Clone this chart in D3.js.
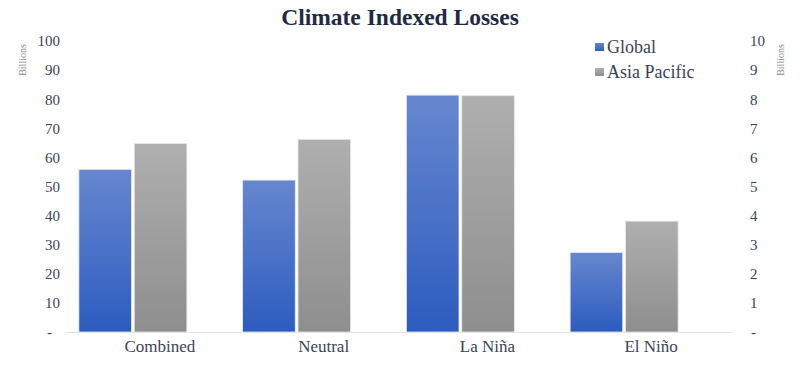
<!DOCTYPE html>
<html>
<head>
<meta charset="utf-8">
<script src="https://cdn.jsdelivr.net/npm/d3@7"></script>
<style>
  body { margin: 0; background: #fff; }
  svg { display: block; }
  .tick line, .domain { display: none; }
</style>
</head>
<body>
<script>
//-----------------Data----------------

const categories = ["Combined", "Neutral", "La Niña", "El Niño"];
const seriesNames = ["Global", "Asia Pacific"];
const globalValues = [55.9, 52.2, 81.4, 27.3];      // left axis, billions
const asiaValues = [6.48, 6.62, 8.12, 3.81];         // right axis, billions
const leftTicks = [0, 10, 20, 30, 40, 50, 60, 70, 80, 90, 100];
const rightTicks = [0, 1, 2, 3, 4, 5, 6, 7, 8, 9, 10];

//-----------------Main svg------------------

const width = 800;
const height = 365;
const serif = "'Liberation Serif', 'DejaVu Serif', serif";
const textColor = "#3b4357";

const svg = d3.select("body").append("svg").attr("width", width).attr("height", height);

const defs = svg.append("defs");
function gradient(id, top, bottom) {
  const g = defs.append("linearGradient").attr("id", id).attr("x1", 0).attr("y1", 0).attr("x2", 0).attr("y2", 1);
  g.append("stop").attr("offset", "0%").attr("stop-color", top);
  g.append("stop").attr("offset", "100%").attr("stop-color", bottom);
}
gradient("blueGrad", "#6787cf", "#2c5cbf");
gradient("grayGrad", "#afafaf", "#8e8e8e");
const fills = { "Global": "url(#blueGrad)", "Asia Pacific": "url(#grayGrad)" };

//---------------Scales---------------------

const x0 = d3.scaleBand().domain(categories).range([78, 733]);
const x1 = d3.scaleBand().domain(seriesNames).range([0, 108]).paddingInner(0.05);
const groupShift = -27; // bar groups sit left of the category labels

const yLeft = d3.scaleLinear().domain([0, 100]).range([332, 41]);
const yRight = d3.scaleLinear().domain([0, 10]).range([332, 41]);

//----------------Title-----------------

svg.append("text")
  .attr("x", width / 2)
  .attr("y", 25)
  .attr("text-anchor", "middle")
  .style("font-family", serif)
  .style("font-weight", "bold")
  .style("font-size", "23.5px")
  .style("fill", "#1f2a44")
  .text("Climate Indexed Losses");

//----------------Baseline-----------------

svg.append("line")
  .attr("x1", 66).attr("x2", 733)
  .attr("y1", yLeft(0) + 0.5).attr("y2", yLeft(0) + 0.5)
  .style("stroke", "#e3e3e3");

//-------------Bars----------------

const rows = categories.map((c, i) => ({ cat: c, values: [
  { series: "Global", y: yLeft(globalValues[i]) },
  { series: "Asia Pacific", y: yRight(asiaValues[i]) }
] }));

const groups = svg.selectAll(".group")
  .data(rows)
  .enter()
  .append("g")
  .attr("class", "group")
  .attr("transform", (d) => "translate(" + (x0(d.cat) + x0.bandwidth() / 2 - 54 + groupShift) + ",0)");

groups.selectAll("rect")
  .data((d) => d.values)
  .enter()
  .append("rect")
  .attr("x", (d) => x1(d.series))
  .attr("width", x1.bandwidth())
  .attr("y", (d) => d.y)
  .attr("height", (d) => yLeft(0) - d.y)
  .style("fill", (d) => fills[d.series])
  .style("stroke", "#e6e9ef")
  .style("stroke-width", 0.8);

//------------Axes----------------

const tickFmt = (d) => (d === 0 ? "-" : d);

const leftAxis = svg.append("g")
  .attr("transform", "translate(60,0)")
  .call(d3.axisLeft(yLeft).tickValues(leftTicks).tickFormat(tickFmt).tickSize(0).tickPadding(0));

const rightAxis = svg.append("g")
  .attr("transform", "translate(750,0)")
  .call(d3.axisRight(yRight).tickValues(rightTicks).tickFormat(tickFmt).tickSize(0).tickPadding(0));

[leftAxis, rightAxis].forEach((ax) => {
  ax.selectAll("text")
    .style("font-family", serif)
    .style("font-size", "15px")
    .style("fill", textColor);
});
leftAxis.selectAll(".tick").filter((d) => d === 0).select("text").attr("dx", "-8");
rightAxis.selectAll(".tick").filter((d) => d === 0).select("text").attr("dx", "1");

const xAxis = svg.append("g")
  .attr("transform", "translate(0," + 340 + ")")
  .call(d3.axisBottom(x0).tickSize(0).tickPadding(0));
xAxis.selectAll("text")
  .attr("dy", "0.71em")
  .style("font-family", serif)
  .style("font-size", "17px")
  .style("fill", textColor);

//------------Axis titles----------------

[[22, 60], [780, 60]].forEach((p) => {
  svg.append("text")
    .attr("transform", "translate(" + p[0] + "," + p[1] + ") rotate(-90)")
    .attr("text-anchor", "middle")
    .attr("dy", "0.35em")
    .style("font-family", serif)
    .style("font-size", "10px")
    .style("fill", "#8c8c8c")
    .text("Billions");
});

//-----------Legend--------------

const legend = svg.append("g").attr("id", "legend");
const legendItems = legend.selectAll("g")
  .data(seriesNames)
  .enter()
  .append("g")
  .attr("transform", (d, i) => "translate(595," + (47 + i * 25) + ")");

legendItems.append("rect")
  .attr("x", 0).attr("y", -4)
  .attr("width", 9).attr("height", 8)
  .style("fill", (d) => fills[d]);

legendItems.append("text")
  .attr("x", 12)
  .attr("dy", "0.35em")
  .style("font-family", serif)
  .style("font-size", "18px")
  .style("fill", textColor)
  .text((d) => d);
</script>
</body>
</html>
